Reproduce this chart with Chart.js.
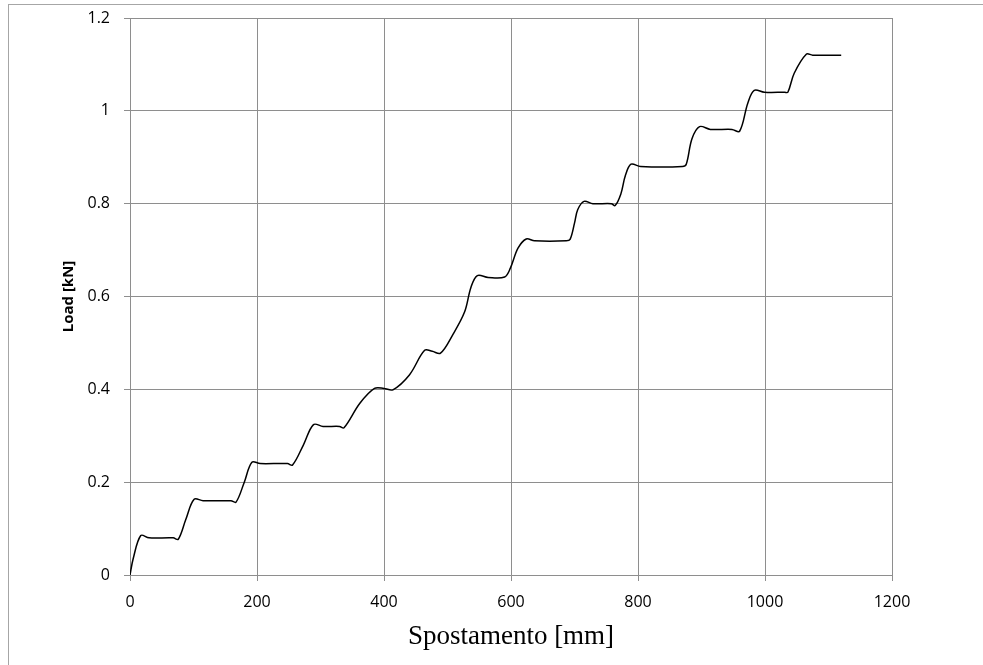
<!DOCTYPE html>
<html>
<head>
<meta charset="utf-8">
<script src="https://cdn.jsdelivr.net/npm/chart.js@4"></script>
<style>
  html, body { margin: 0; padding: 0; background: #fff; overflow: hidden; }
  #wrap { position: relative; width: 983px; height: 665px; }
  #frame { position: absolute; left: 8px; top: 4px; width: 1000px; height: 700px;
           border-top: 1px solid #a6a6a6; border-left: 1px solid #a6a6a6; pointer-events: none; }
  canvas { position: absolute; left: 0; top: 0; }
</style>
</head>
<body>
<div id="wrap">
  <canvas id="myChart" width="983" height="665"></canvas>
  <div id="frame"></div>
</div>
<script>
'use strict'

// displacement [mm]
let displacement = [0, 5, 17, 30, 68, 76, 88, 101, 115, 159, 167, 180, 192, 205, 248, 256, 273, 289, 304, 330, 337,
  362, 385, 400, 414, 440, 464, 476, 489, 508, 527, 537, 547, 564, 590, 599, 611, 624, 637, 687, 693,
  700, 705, 715, 729, 758, 764, 773, 780, 789, 804, 870, 876, 885, 897, 914, 948, 960, 973, 983, 999,
  1031, 1036, 1046, 1065, 1075, 1120];
// load [kN]
let load = [0, 0.035, 0.085, 0.080, 0.080, 0.077, 0.12, 0.163, 0.160, 0.160, 0.157, 0.20, 0.243, 0.240, 0.240, 0.237, 0.28, 0.324, 0.320, 0.320, 0.317,
  0.37, 0.402, 0.402, 0.399, 0.431, 0.484, 0.482, 0.478, 0.517, 0.567, 0.62, 0.645, 0.641, 0.642, 0.661, 0.704, 0.724, 0.720, 0.720, 0.723,
  0.758, 0.787, 0.805, 0.800, 0.800, 0.796, 0.821, 0.86, 0.885, 0.880, 0.880, 0.885, 0.94, 0.966, 0.960, 0.960, 0.956, 1.017, 1.044, 1.040,
  1.040, 1.040, 1.081, 1.122, 1.120, 1.120];

let xTicks = [0, 200, 400, 600, 800, 1000, 1200];
let yTicks = [0, 0.2, 0.4, 0.6, 0.8, 1, 1.2];

let points = [];
for (let i = 0; i < displacement.length; i++) {
  points.push({ x: displacement[i], y: load[i] });
}

let gridColor = '#8e8e8e';
let tickFont = { family: 'Open Sans', size: 16 };

const config = {
  type: 'line',
  data: {
    datasets: [{
      label: 'Load',
      data: points,
      borderColor: '#000',
      borderWidth: 1.5,
      pointRadius: 0,
      tension: 0.35,
      fill: false
    }]
  },
  options: {
    responsive: false,
    animation: false,
    layout: { padding: { left: 0, top: 18, right: 91, bottom: 0 } },
    plugins: { legend: { display: false }, tooltip: { enabled: false } },
    scales: {
      x: {
        type: 'linear',
        min: 0, max: 1200,
        afterBuildTicks: function (axis) { axis.ticks = xTicks.map(v => ({ value: v })); },
        afterFit: function (axis) { axis.height = 90; axis.paddingLeft = 0; axis.paddingRight = 0; },
        grid: { color: gridColor, lineWidth: 1, tickLength: 6 },
        border: { color: gridColor },
        ticks: { color: '#000', font: tickFont, padding: 12, maxRotation: 0,
          callback: function (v) { return String(v); } },
        title: {
          display: true, text: 'Spostamento [mm]', color: '#000',
          font: { family: 'Liberation Serif', size: 27 },
          padding: { top: 0, bottom: 12 }
        }
      },
      y: {
        min: 0, max: 1.2,
        afterBuildTicks: function (axis) { axis.ticks = yTicks.map(v => ({ value: v })); },
        afterFit: function (axis) { axis.width = 130; axis.paddingTop = 0; axis.paddingBottom = 0; },
        grid: { color: gridColor, lineWidth: 1, tickLength: 6 },
        border: { color: gridColor },
        ticks: { color: '#000', font: tickFont, padding: 14,
          callback: function (v) { return String(Math.round(v * 10) / 10); } },
        title: {
          display: true, text: 'Load [kN]', color: '#000',
          font: { family: 'Open Sans', size: 15, weight: 'bold' },
          padding: { top: 60, bottom: 0 }
        }
      }
    }
  }
};

let canvasChart = document.getElementById('myChart');
const myChart = new Chart(canvasChart, config);
</script>
</body>
</html>
